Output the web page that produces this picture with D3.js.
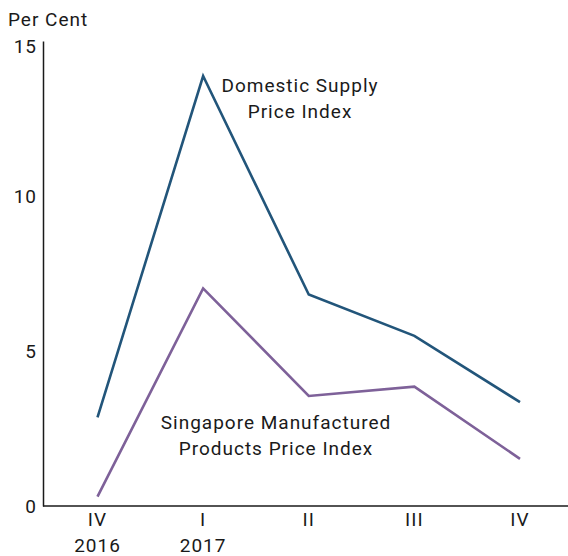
<!DOCTYPE html>
<html>
<head>
<meta charset="utf-8">
<script src="https://cdn.jsdelivr.net/npm/d3@7"></script>
<style>
  html, body { margin: 0; padding: 0; background: #fff; }
  svg text { font-family: "Roboto", "Noto Sans", sans-serif; fill: #1a1a1a; letter-spacing: 1px; }
</style>
</head>
<body>
<div id="chart"></div>
<script>
const quarters = ["IV", "I", "II", "III", "IV"];
const years = ["2016", "2017", "", "", ""];
const domesticSupply = [2.86, 13.87, 6.82, 5.49, 3.35];
const smppi = [0.30, 7.02, 3.55, 3.85, 1.52];
const yTicks = [0, 5, 10, 15];

const width = 568, height = 556;
const svg = d3.select("#chart").append("svg")
  .attr("width", width).attr("height", height);

const x = d3.scalePoint().domain(d3.range(quarters.length)).range([97.5, 520]);
const y = d3.scaleLinear().domain([0, 15]).range([506, 41]);

// axes
const yAxis = svg.append("g").attr("transform", "translate(43,0)")
  .call(d3.axisLeft(y).tickValues(yTicks).tickSize(0).tickPadding(6));
yAxis.select(".domain").attr("stroke", "#1a1a1a").attr("stroke-width", 1.5);
yAxis.selectAll("text").style("font-size", "19px").attr("fill", "#1a1a1a");
yAxis.selectAll(".tick").filter(d => d === 15).select("text").attr("dy", "0.6em");

svg.append("line")
  .attr("x1", 43).attr("x2", width).attr("y1", y(0)).attr("y2", y(0))
  .attr("stroke", "#1a1a1a").attr("stroke-width", 1.5);

svg.append("g").selectAll("text.q").data(quarters).join("text")
  .attr("x", (d, i) => x(i)).attr("y", 526)
  .attr("text-anchor", "middle").attr("font-size", 19).text(d => d);
svg.append("g").selectAll("text.yr").data(years).join("text")
  .attr("x", (d, i) => x(i)).attr("y", 552)
  .attr("text-anchor", "middle").attr("font-size", 19).text(d => d);

svg.append("text").attr("x", 8).attr("y", 26).attr("font-size", 19).text("Per Cent");

const line = d3.line().x((d, i) => x(i)).y(d => y(d));
svg.append("path").datum(domesticSupply).attr("d", line)
  .attr("fill", "none").attr("stroke", "#22557a").attr("stroke-width", 2.6)
  .attr("stroke-linejoin", "miter");
svg.append("path").datum(smppi).attr("d", line)
  .attr("fill", "none").attr("stroke", "#7e6199").attr("stroke-width", 2.6)
  .attr("stroke-linejoin", "miter");

// labels
const lab1 = svg.append("text").attr("text-anchor", "middle").attr("font-size", 19);
lab1.append("tspan").attr("x", 300).attr("y", 92).text("Domestic Supply");
lab1.append("tspan").attr("x", 300).attr("y", 118).text("Price Index");
const lab2 = svg.append("text").attr("text-anchor", "middle").attr("font-size", 19);
lab2.append("tspan").attr("x", 276).attr("y", 429).text("Singapore Manufactured");
lab2.append("tspan").attr("x", 276).attr("y", 455).text("Products Price Index");
</script>
</body>
</html>
